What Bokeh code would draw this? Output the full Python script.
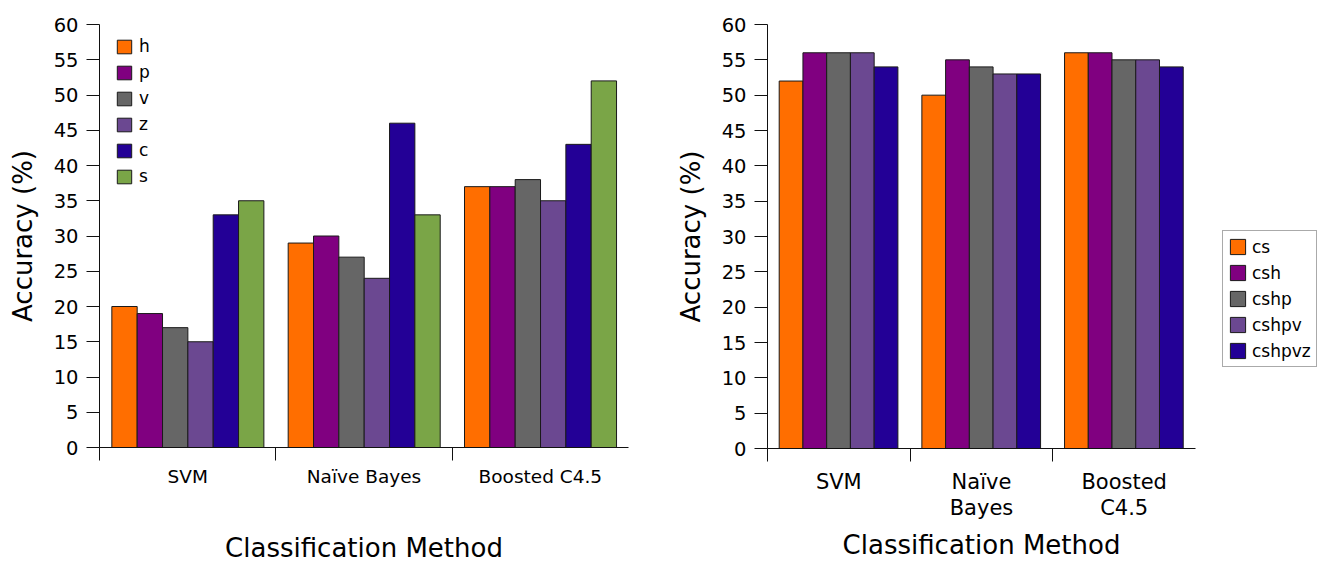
from bokeh.plotting import figure
from bokeh.layouts import row
from bokeh.models import Range1d, FixedTicker, Legend, LegendItem
from bokeh.embed import file_html
from bokeh.resources import INLINE

# ---------------- data ----------------
methods = ["SVM", "Naïve Bayes", "Boosted C4.5"]
methods_wrapped = ["SVM", "Naïve\nBayes", "Boosted\nC4.5"]
y_ticks = [0, 5, 10, 15, 20, 25, 30, 35, 40, 45, 50, 55, 60]

left_labels = ["h", "p", "v", "z", "c", "s"]
left_h = [20, 29, 37]
left_p = [19, 30, 37]
left_v = [17, 27, 38]
left_z = [15, 24, 35]
left_c = [33, 46, 43]
left_s = [35, 33, 52]

right_labels = ["cs", "csh", "cshp", "cshpv", "cshpvz"]
right_cs = [52, 50, 56]
right_csh = [56, 55, 56]
right_cshp = [56, 54, 55]
right_cshpv = [56, 53, 55]
right_cshpvz = [54, 53, 54]

colors = ["#ff6e00", "#800080", "#666666", "#6b4891", "#230096", "#7aa547"]

FONT = "DejaVu Sans"


def style_fig(p, ytick_size, ytick_len, ystand, xtick_size, xstand, xlabel_stand, ylabel_stand, labels):
    p.grid.visible = False
    p.outline_line_color = None
    p.background_fill_color = "white"
    p.border_fill_color = "white"
    # y axis
    ya = p.yaxis[0]
    ya.ticker = FixedTicker(ticks=y_ticks)
    ya.axis_label = "Accuracy (%)"
    ya.axis_label_text_font = FONT
    ya.axis_label_text_font_size = "26px"
    ya.axis_label_text_font_style = "normal"
    ya.axis_label_text_color = "black"
    ya.axis_label_standoff = ylabel_stand
    ya.major_label_text_font = FONT
    ya.major_label_text_font_size = ytick_size
    ya.major_label_text_color = "black"
    ya.major_label_standoff = ystand
    ya.major_tick_out = ytick_len
    ya.major_tick_in = 0
    ya.minor_tick_line_color = None
    ya.axis_line_color = "#111111"
    ya.major_tick_line_color = "#111111"
    # x axis
    xa = p.xaxis[0]
    xa.ticker = FixedTicker(ticks=[0.5, 1.5, 2.5], minor_ticks=[0, 1, 2])
    xa.major_label_overrides = {0.5: labels[0], 1.5: labels[1], 2.5: labels[2]}
    xa.axis_label = "Classification Method"
    xa.axis_label_text_font = FONT
    xa.axis_label_text_font_size = "26px"
    xa.axis_label_text_font_style = "normal"
    xa.axis_label_text_color = "black"
    xa.axis_label_standoff = xlabel_stand
    xa.major_label_text_font = FONT
    xa.major_label_text_font_size = xtick_size
    xa.major_label_text_color = "black"
    xa.major_label_standoff = xstand
    xa.major_tick_out = 0
    xa.major_tick_in = 0
    xa.major_tick_line_color = None
    xa.minor_tick_out = 13
    xa.minor_tick_in = 0
    xa.minor_tick_line_color = "#111111"
    xa.axis_line_color = "#111111"
    return xa


# ---------------- left chart ----------------
p1 = figure(frame_width=529, frame_height=423, x_range=Range1d(0, 3), y_range=Range1d(0, 60),
            output_backend="svg", toolbar_location=None,
            min_border_left=99, min_border_right=32, min_border_top=24, min_border_bottom=110)

left_series = [left_h, left_p, left_v, left_z, left_c, left_s]
w1 = 0.1437
start1 = 0.07
items1 = []
for i, (lab, vals) in enumerate(zip(left_labels, left_series)):
    xs = [g + start1 + (i + 0.5) * w1 for g in range(len(methods))]
    r = p1.vbar(x=xs, top=vals, width=w1, bottom=0, fill_color=colors[i],
                line_color="#1a1a1a", line_width=1)
    items1.append(LegendItem(label=lab, renderers=[r]))

style_fig(p1, "19.5px", 13, 8, "18.5px", 5, 43, 13, methods)

leg1 = Legend(items=items1, location=(16, 261), border_line_color=None,
              background_fill_alpha=0, padding=0, margin=0, spacing=6,
              glyph_width=18, glyph_height=17, label_standoff=6,
              label_text_font=FONT, label_text_font_size="17px",
              label_text_color="black", label_height=20)
p1.add_layout(leg1, "center")

# ---------------- right chart ----------------
p2 = figure(frame_width=428, frame_height=424, x_range=Range1d(0, 3), y_range=Range1d(0, 60),
            output_backend="svg", toolbar_location=None,
            min_border_left=107, min_border_right=121, min_border_top=23, min_border_bottom=104)

right_series = [right_cs, right_csh, right_cshp, right_cshpv, right_cshpvz]
w2 = 0.1664
start2 = 0.082
items2 = []
for i, (lab, vals) in enumerate(zip(right_labels, right_series)):
    xs = [g + start2 + (i + 0.5) * w2 for g in range(len(methods))]
    r = p2.vbar(x=xs, top=vals, width=w2, bottom=0, fill_color=colors[i],
                line_color="#1a1a1a", line_width=1)
    items2.append(LegendItem(label=lab, renderers=[r]))

xa2 = style_fig(p2, "19.5px", 13, 8, "21px", 8, 7, 13, methods_wrapped)
xa2.major_label_text_line_height = 1.1

leg2 = Legend(items=items2, location=(27, 81), border_line_color="#555555",
              border_line_width=1, background_fill_color="white",
              padding=5, margin=0, spacing=5,
              glyph_width=19, glyph_height=19, label_standoff=5,
              label_text_font=FONT, label_text_font_size="17px",
              label_text_color="black", label_height=21)
p2.add_layout(leg2, "right")

layout = row(p1, p2)
open("out.html", "w").write(file_html(layout, INLINE))
